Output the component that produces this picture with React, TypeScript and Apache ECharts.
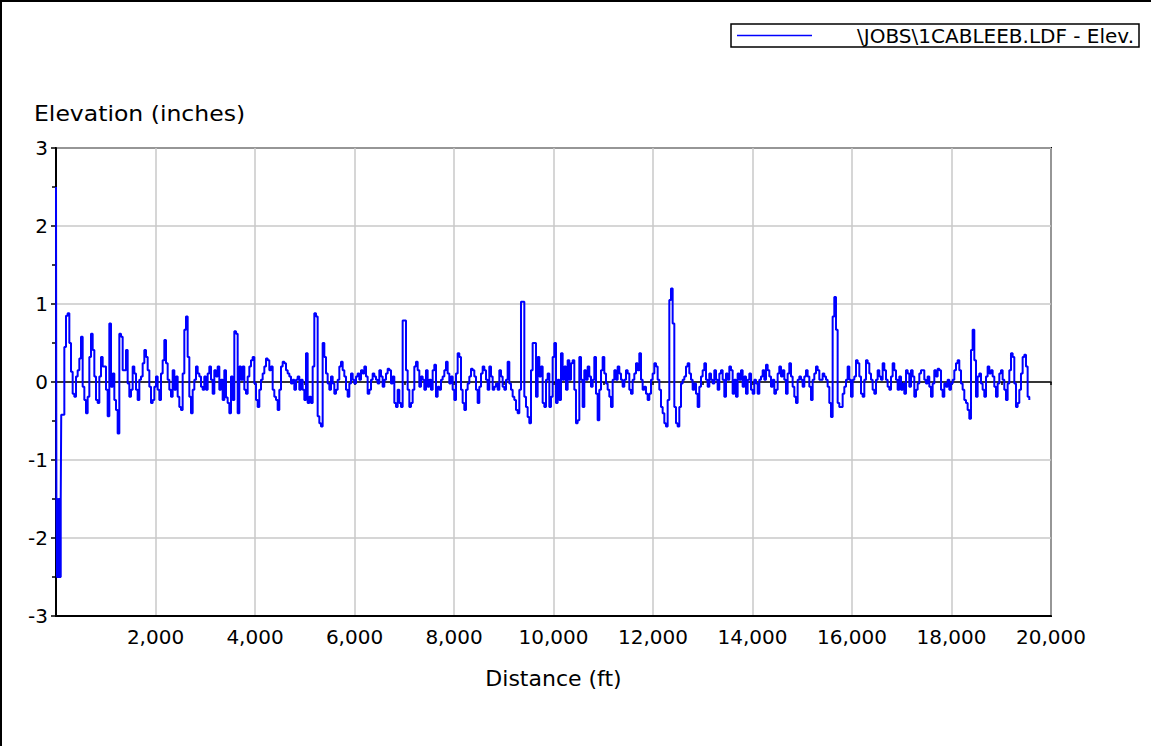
import React, { useEffect, useRef } from "react";
import * as echarts from "echarts";

// Opening readings of the run, at their own distances (ft)
const headDistance = [0, 8, 20, 35, 50, 65, 80, 95, 105];
const headElevation = [2.5, -1.5, -2.5, -1.5, -2.5, -1.5, -2.5, -1.5, -0.42];

// Remaining readings, one every 33.5 ft starting at 134 ft (inches)
const bodyStartFt = 134;
const bodyStepFt = 33.5;

const runA = [
  -0.42, 0.45, 0.85, 0.88, 0.5, 0.13, -0.15, -0.19, 0.07, 0.15,
  0.3, 0.58, -0.06, -0.23, -0.4, -0.19, 0.32, 0.62, 0.41, 0.07,
  -0.23, -0.27, 0.07, 0.32, 0.2, 0.2, -0.1, -0.44, 0.75, -0.06,
  0.11, -0.23, -0.36, -0.66, 0.62, 0.58, 0.15, 0.15, 0.41, -0.02,
  -0.19, -0.1, 0.2, 0.11, -0.1, -0.23, 0.03, 0.07, 0.24, 0.41,
  0.32, 0.15, -0.06, -0.27, -0.23, -0.06, 0.07, -0.1, -0.23, 0.11,
  0.28, 0.54, 0.24, 0.03, -0.1, -0.19, 0.15, -0.1, 0.07, -0.19,
  -0.32, -0.36, 0.11, 0.67, 0.84, 0.32, -0.19, -0.4, -0.1, 0.03,
  0.2, 0.11, 0.07, -0.06, -0.1, 0.07, -0.1, 0.11, 0.2, 0.03,
  -0.15, 0.15, 0.07, 0.2, -0.1, 0.03, -0.23,
];

const runB = [
  0.15, -0.2, -0.27, -0.4, 0.07, -0.23, 0.65, 0.62, -0.4, 0.2,
  0.03, 0.2, -0.1, -0.15, 0.07, 0.2, 0.28, 0.32, -0.02, -0.23,
  -0.32, -0.1, 0.03, 0.11, 0.2, 0.3, 0.28, 0.15, 0.2, -0.1,
  -0.19, -0.23, -0.36, -0.1, 0.2, 0.26, 0.24, 0.15, 0.11, 0.07,
  -0.02, 0.03, -0.1, 0.03, 0.07, -0.1, 0.03, -0.1, -0.23, 0.37,
  -0.27, -0.19, -0.27, 0.2, 0.88, 0.84, -0.44, -0.53, -0.57, 0.5,
  0.32, 0.11, -0.02, -0.1, 0.07, -0.02, -0.15, -0.1, 0.03, 0.2,
  0.26, 0.15, 0.07, -0.1, -0.19, -0.02, 0.11, 0.03, -0.02, 0.07,
  0.11, 0.03, 0.15, 0.11, 0.2, 0.07, -0.15, -0.1, 0.03, 0.11,
  0.07, 0.03, -0.02, 0.15, 0.07, -0.06, 0.03, 0.11, 0.17, 0.15,
  -0.02,
];

const runC = [
  0.07, -0.27, -0.32, -0.1, -0.27, -0.32, 0.79, 0.79, 0.15, -0.1,
  -0.32, -0.27, -0.1, 0.2, 0.26, 0.15, -0.06, 0.07, 0.03, -0.1,
  0.15, -0.06, 0.03, -0.1, 0.15, 0.22, -0.19, -0.06, -0.1, 0.03,
  0.07, 0.15, 0.26, 0.11, -0.02, 0.07, -0.1, -0.23, 0.11, 0.37,
  0.32, -0.1, -0.27, -0.36, -0.1, -0.02, 0.07, 0.17, 0.15, 0.07,
  -0.1, -0.27, -0.06, 0.11, 0.2, 0.15, 0.03, -0.1, 0.2, 0.07,
  -0.1, -0.06, -0.02, -0.1, 0.15, 0.07, -0.06, -0.1, 0.03, 0.26,
  -0.02, -0.1, -0.19, -0.23, -0.36, -0.4, -0.1, 1.03, 1.03, -0.19,
  -0.32, -0.45, -0.53, 0.15, 0.5, 0.5, -0.19, 0.32, 0.07, 0.2,
  -0.27, -0.32, 0.03, 0.11, -0.32, -0.19, 0.32, 0.5, -0.27, 0.03,
  -0.23,
];

const runD = [
  0.37, 0.03, 0.2, -0.1, 0.28, 0.03, 0.24, 0.28, -0.1, -0.53,
  -0.49, 0.32, 0.03, -0.32, 0.15, 0.03, 0.2, 0.07, -0.06, 0.03,
  0.32, -0.15, -0.49, -0.1, 0.15, 0.32, 0.11, -0.02, -0.1, -0.19,
  -0.32, 0.03, 0.15, 0.03, 0.2, 0.11, 0.03, -0.06, 0.03, 0.15,
  0.11, -0.1, -0.15, 0.03, 0.11, 0.24, 0.15, 0.37, 0.03, -0.1,
  -0.06, -0.15, -0.23, -0.15, 0.03, 0.11, 0.24, 0.2, 0.03, -0.1,
  -0.32, -0.4, -0.53, -0.57, -0.23, 1.05, 1.2, 0.75, -0.32, -0.53,
  -0.57, -0.32, -0.02, 0.03, 0.07, 0.2, 0.24, 0.11, 0.03, -0.1,
  -0.02, -0.15, -0.32, -0.06, 0.07, 0.15, 0.24, 0.03, -0.06, 0.11,
  0.03, -0.02, 0.15, 0.03, -0.1, 0.11, 0.15, 0.03, -0.19, 0.11,
  0.03,
];

const runE = [
  0.2, 0.15, -0.15, 0.03, -0.19, 0.11, 0.03, 0.15, -0.06, 0.07,
  -0.15, 0.03, 0.11, -0.1, -0.15, 0.03, -0.02, -0.15, 0.03, 0.07,
  0.15, 0.03, 0.22, 0.15, 0.07, -0.06, 0.03, -0.15, -0.1, 0.11,
  0.2, 0.07, 0.15, 0.03, -0.15, 0.11, 0.24, 0.07, -0.06, -0.19,
  -0.27, 0.03, 0.07, 0.03, -0.06, 0.07, 0.15, 0.07, -0.06, -0.23,
  0.03, 0.11, 0.2, 0.15, 0.03, 0.03, 0.11, 0.07, 0.03, -0.06,
  -0.27, -0.45, 0.84, 1.09, 0.67, -0.27, -0.32, -0.32, -0.15, -0.06,
  0.03, 0.2, 0.03, -0.19, 0.03, 0.07, 0.28, 0.24, 0.07, -0.15,
  -0.19, 0.03, 0.28, 0.24, 0.11, 0.03, -0.1, -0.15, 0.03, 0.15,
  0.07, 0.03, 0.24, 0.15, 0.03, -0.06, -0.1, 0.07, 0.24, 0.15,
  0.03,
];

const runF = [
  -0.1, 0.07, -0.1, -0.02, -0.15, 0.15, 0.11, -0.06, 0.15, 0.07,
  -0.19, -0.1, -0.02, 0.11, 0.15, 0.15, 0.03, -0.02, 0.07, -0.06,
  -0.19, -0.02, 0.15, 0.07, 0.17, 0.15, -0.1, -0.19, -0.02, -0.06,
  0.03, -0.1, -0.02, 0.03, 0.15, 0.24, 0.28, 0.15, -0.02, -0.1,
  -0.23, -0.27, -0.36, -0.47, 0.41, 0.67, 0.28, -0.19, 0.07, 0.11,
  -0.02, -0.1, -0.19, 0.07, 0.2, 0.11, 0.15, 0.07, -0.06, -0.19,
  -0.02, 0.11, 0.15, 0.03, -0.1, -0.23, -0.02, 0.15, 0.37, 0.32,
  -0.02, -0.32, -0.27, -0.1, 0.11, 0.32, 0.35, 0.2, -0.19, -0.23,
];

const xTicks = [2000, 4000, 6000, 8000, 10000, 12000, 14000, 16000, 18000, 20000];
const yTicks = [-3, -2, -1, 0, 1, 2, 3];

const seriesName = "\\JOBS\\1CABLEEB.LDF - Elev.";
const FONT = "DejaVu Sans";

function buildPoints(): [number, number][] {
  const pts: [number, number][] = headDistance.map((d, i) => [d, headElevation[i]]);
  const body = [...runA, ...runB, ...runC, ...runD, ...runE, ...runF];
  body.forEach((v, i) => {
    pts.push([Math.round((bodyStartFt + i * bodyStepFt) * 10) / 10, v]);
  });
  return pts;
}

export default function App() {
  const ref = useRef<HTMLDivElement>(null);

  useEffect(() => {
    if (!ref.current) return;
    const chart = echarts.init(ref.current, null, { renderer: "svg" });
    const points = buildPoints();

    chart.setOption({
      animation: false,
      backgroundColor: "#ffffff",
      textStyle: { fontFamily: FONT, color: "#000" },
      grid: {
        left: 56,
        right: 100,
        top: 148,
        bottom: 130,
        show: true,
        borderColor: "#000",
        borderWidth: 2,
        backgroundColor: "transparent",
      },
      xAxis: [
        {
          type: "value",
          min: 0,
          max: 20000,
          interval: 2000,
          position: "bottom",
          name: "Distance (ft)",
          nameLocation: "middle",
          nameGap: 51,
          nameTextStyle: { fontFamily: FONT, fontSize: 22, color: "#000" },
          axisLine: { show: true, onZero: false, lineStyle: { color: "#000", width: 2 } },
          axisTick: { show: false },
          axisLabel: {
            fontFamily: FONT,
            fontSize: 20,
            color: "#000",
            margin: 11,
            formatter: (v: number) =>
              xTicks.includes(v) ? v.toLocaleString("en-US") : "",
          },
          splitLine: { show: true, lineStyle: { color: "#c8c8c8", width: 1.5 } },
        },
        {
          // zero reference line with 1,000 ft marks
          type: "value",
          min: 0,
          max: 20000,
          interval: 1000,
          position: "bottom",
          axisLine: { show: true, onZero: true, lineStyle: { color: "#000", width: 1.5 } },
          axisTick: { show: true, length: 3, lineStyle: { color: "#000", width: 1.5 } },
          axisLabel: { show: false },
          splitLine: { show: false },
        },
      ],
      yAxis: {
        type: "value",
        min: -3,
        max: 3,
        interval: 1,
        axisLine: { show: true, onZero: false, lineStyle: { color: "#000", width: 2 } },
        axisTick: { show: true, length: 5, lineStyle: { color: "#000", width: 1.5 } },
        minorTick: { show: true, splitNumber: 2, length: 4, lineStyle: { color: "#000", width: 1.5 } },
        axisLabel: {
          fontFamily: FONT,
          fontSize: 20,
          color: "#000",
          margin: 8,
          formatter: (v: number) => (yTicks.includes(v) ? String(v) : ""),
        },
        splitLine: { show: true, lineStyle: { color: "#c8c8c8", width: 1.5 } },
      },
      graphic: [
        {
          type: "line",
          shape: { x1: 1, y1: 0, x2: 1, y2: 746 },
          style: { stroke: "#000", lineWidth: 2 },
        },
        {
          type: "line",
          shape: { x1: 0, y1: 1, x2: 1151, y2: 1 },
          style: { stroke: "#000", lineWidth: 2 },
        },
        {
          type: "text",
          x: 34,
          y: 102,
          scaleX: 1.07,
          style: {
            text: "Elevation (inches)",
            font: `22px "${FONT}"`,
            fill: "#000",
          },
        },
        {
          type: "rect",
          shape: { x: 731, y: 24, width: 408, height: 23 },
          style: { fill: "#fff", stroke: "#000", lineWidth: 1.5 },
        },
        {
          type: "line",
          shape: { x1: 737, y1: 35.5, x2: 812, y2: 35.5 },
          style: { stroke: "#0000ff", lineWidth: 1.5 },
        },
        {
          type: "text",
          x: 1134,
          y: 36,
          style: {
            text: seriesName,
            font: `20px "${FONT}"`,
            fill: "#000",
            align: "right",
            verticalAlign: "middle",
          },
        },
      ],
      series: [
        {
          name: seriesName,
          type: "line",
          xAxisIndex: 0,
          yAxisIndex: 0,
          data: points,
          step: "end",
          showSymbol: false,
          symbol: "none",
          lineStyle: { color: "#0000ff", width: 2 },
          z: 3,
        },
      ],
    });

    return () => chart.dispose();
  }, []);

  return (
    <div
      ref={ref}
      style={{ position: "fixed", left: 0, top: 0, width: 1151, height: 746, background: "#fff" }}
    />
  );
}
